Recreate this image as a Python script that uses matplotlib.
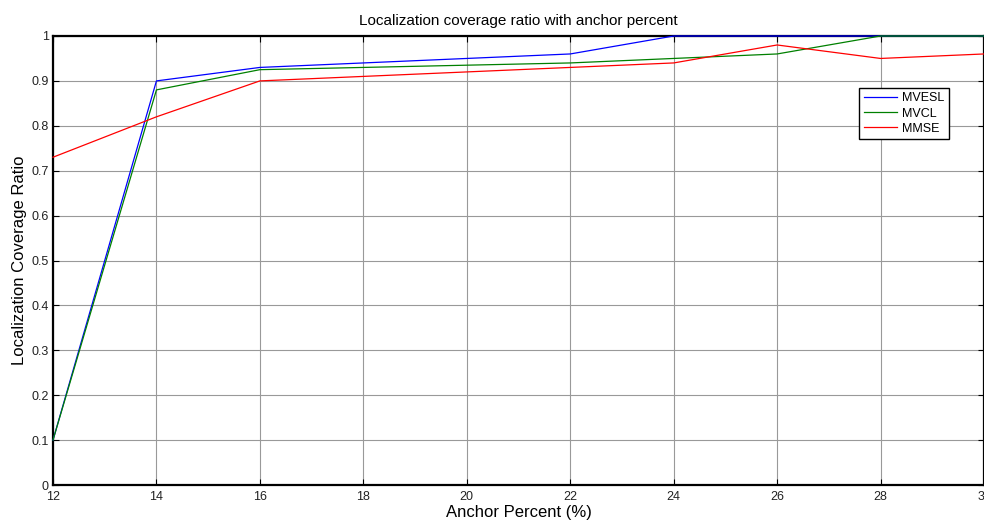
import matplotlib
matplotlib.use('Agg')
import matplotlib.pyplot as plt

plt.rcParams['font.family'] = ['Liberation Sans', 'DejaVu Sans']

# 数据
anchor_percent = [12, 14, 16, 18, 20, 22, 24, 26, 28, 30]
mvesl = [0.10, 0.90, 0.93, 0.94, 0.95, 0.96, 1.00, 1.00, 1.00, 1.00]
mvcl = [0.10, 0.88, 0.925, 0.93, 0.935, 0.94, 0.95, 0.96, 1.00, 1.00]
mmse = [0.73, 0.82, 0.90, 0.91, 0.92, 0.93, 0.94, 0.98, 0.95, 0.96]

x_ticks = [12, 14, 16, 18, 20, 22, 24, 26, 28, 30]
y_ticks = [0, 0.1, 0.2, 0.3, 0.4, 0.5, 0.6, 0.7, 0.8, 0.9, 1]

fig = plt.figure(figsize=(9.84, 5.21), dpi=100)
ax = fig.add_axes([53 / 984, 36 / 521, 931 / 984, 449 / 521])

ax.plot(anchor_percent, mvesl, color='#0000ff', lw=0.9, label='MVESL', clip_on=False, zorder=5)
ax.plot(anchor_percent, mvcl, color='#008000', lw=0.9, label='MVCL', clip_on=False, zorder=5)
ax.plot(anchor_percent, mmse, color='#ff0000', lw=0.9, label='MMSE', clip_on=False, zorder=5)

ax.set_xlim(12, 30)
ax.set_ylim(0, 1)
ax.set_xticks(x_ticks)
ax.set_yticks(y_ticks)
ax.set_xticklabels([str(v) for v in x_ticks])
ax.set_yticklabels(['0', '0.1', '0.2', '0.3', '0.4', '0.5', '0.6', '0.7', '0.8', '0.9', '1'])

ax.grid(True, color='0.6', lw=0.8, ls='-')
ax.set_axisbelow(True)
ax.tick_params(direction='in', length=4, width=0.8, labelsize=9, color='black',
               labelcolor='#222222', top=True, right=True, pad=3)
ax.tick_params(axis='x', pad=4)
for s in ax.spines.values():
    s.set_linewidth(1.6)
    s.set_color('black')
    s.set_zorder(4)

ax.set_title('Localization coverage ratio with anchor percent', fontsize=11, pad=8)
ax.set_xlabel('Anchor Percent (%)', fontsize=12, labelpad=2)
ax.set_ylabel('Localization Coverage Ratio', fontsize=12, labelpad=3)

leg = ax.legend(loc='upper left', bbox_to_anchor=(0.866, 0.884), fontsize=9,
                fancybox=False, framealpha=1, edgecolor='black',
                borderpad=0.35, handlelength=2.7, handletextpad=0.4, labelspacing=0.25,
                borderaxespad=0)
leg.get_frame().set_linewidth(1.0)

plt.savefig('out.png', dpi=100)
